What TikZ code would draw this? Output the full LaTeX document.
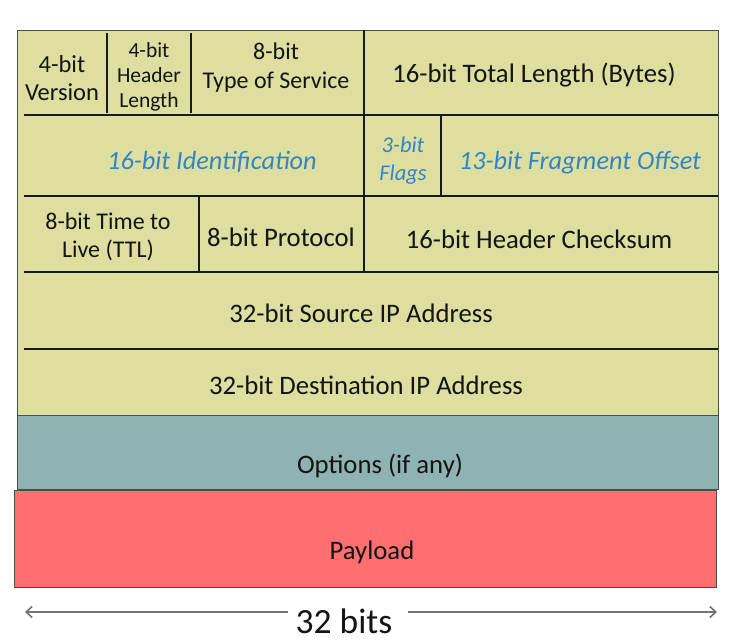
\documentclass[tikz,border=0pt]{standalone}
\usepackage{fontspec}
\setmainfont{Carlito}
\usetikzlibrary{arrows.meta}
\definecolor{hdr}{HTML}{DFDEA1}
\definecolor{opt}{HTML}{8FB3B3}
\definecolor{pay}{HTML}{FF6F6F}
\definecolor{itblue}{HTML}{2F86C6}
\definecolor{txt}{HTML}{141414}
\tikzset{
  cell/.style={align=center, text=txt, inner sep=0pt, font=\fontsize{26.7}{30}\selectfont},
  hlen/.style={cell, font=\fontsize{21.5}{25}\selectfont},
  two/.style={cell, font=\fontsize{24.5}{27.5}\selectfont},
  blue/.style={cell, text=itblue, font=\fontsize{26.3}{30}\selectfont\itshape},
  sep/.style={line width=2.4pt, draw=black!90},
  outer/.style={line width=1pt, draw=black!70},
  widtharrow/.style={line width=1.6pt, draw=black!55},
}
\begin{document}
\begin{tikzpicture}[x=1pt,y=-1pt]
\useasboundingbox (0,0) rectangle (736,641);
% background boxes
\filldraw[outer, fill=hdr] (17,30) rectangle (718,415);
\filldraw[outer, fill=opt] (17,415) rectangle (718,489);
\filldraw[outer, fill=pay] (14,490) rectangle (716,587);
% horizontal separators
\draw[sep] (24,115) -- (718,115);
\draw[sep] (24,196) -- (718,196);
\draw[sep] (24,272) -- (718,272);
\draw[sep] (24,349) -- (718,349);
% vertical separators
\draw[sep] (107,33) -- (107,113);
\draw[sep] (191,33) -- (191,113);
\draw[sep] (364,30) -- (364,115);
\draw[sep] (364,115) -- (364,196);
\draw[sep] (441,115) -- (441,196);
\draw[sep] (199,196) -- (199,272);
\draw[sep] (364,196) -- (364,272);
% texts
\node[two] (ver) at (62,78) {4-bit\\Version};
\node[hlen] (hl) at (149,77) {4-bit\\Header\\Length};
\node[two, font=\fontsize{24}{29}\selectfont] (tos) at (276,68) {8-bit\\Type of Service};
\node[cell] (tl) at (534,75) {16-bit Total Length (Bytes)};
\node[blue] (id) at (212,162) {16-bit Identification};
\node[blue, font=\fontsize{22.5}{28}\selectfont\itshape] (fl) at (403,161) {3-bit\\Flags};
\node[blue] (fo) at (580,163) {13-bit Fragment Offset};
\node[two, font=\fontsize{24}{28}\selectfont] (ttl) at (108,237) {8-bit Time to\\Live (TTL)};
\node[cell] (pr) at (281,237) {8-bit Protocol};
\node[cell] (hc) at (539,239) {16-bit Header Checksum};
\node[cell] (src) at (361,313) {32-bit Source IP Address};
\node[cell] (dst) at (366,385) {32-bit Destination IP Address};
\node[cell] (op) at (380,466) {Options (if any)};
\node[cell] (pl) at (372,552) {Payload};
% width arrow
\node[cell, font=\fontsize{35.5}{40}\selectfont] (bits) at (344,621) {32 bits};
\coordinate (aL) at (25,612);
\coordinate (aR) at (717,612);
\coordinate (gL) at (288,612);
\coordinate (gR) at (408,612);
\draw[widtharrow, {Straight Barb[length=6pt,width=11pt]}-] (aL) -- (gL);
\draw[widtharrow, -{Straight Barb[length=6pt,width=11pt]}] (gR) -- (aR);
\end{tikzpicture}
\end{document}
